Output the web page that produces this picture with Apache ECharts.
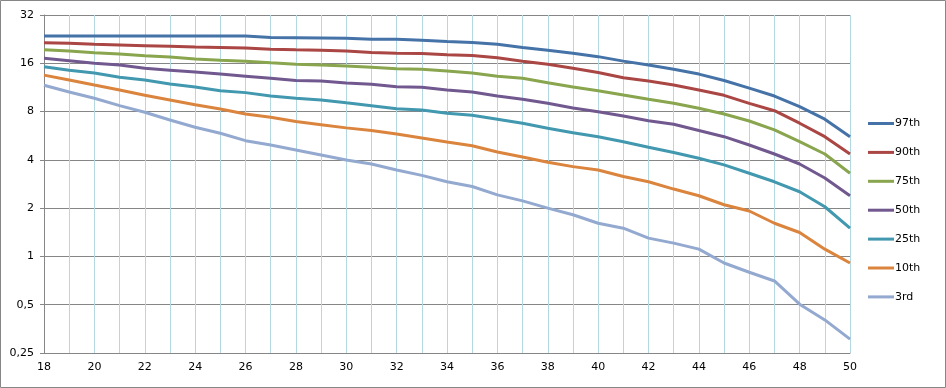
<!DOCTYPE html>
<html>
<head>
<meta charset="utf-8">
<script src="https://cdn.jsdelivr.net/npm/echarts@6/dist/echarts.min.js"></script>
<style>
html,body{margin:0;padding:0;background:#fff;}
#chart{width:946px;height:388px;}
</style>
</head>
<body>
<div id="chart"></div>
<script>
const ages = ['18','19','20','21','22','23','24','25','26','27','28','29','30','31','32','33','34','35','36','37','38','39','40','41','42','43','44','45','46','47','48','49','50'];
const seriesNames = ['97th','90th','75th','50th','25th','10th','3rd'];
const seriesColors = ['#4572A7','#AA4643','#89A54E','#71588F','#4198AF','#DB843D','#93A9CF'];
const p97 = [23.7,23.7,23.7,23.7,23.7,23.7,23.7,23.7,23.7,23.2,23.1,23.0,22.9,22.6,22.6,22.3,21.9,21.6,21.0,20.1,19.3,18.5,17.6,16.5,15.6,14.7,13.7,12.5,11.2,10.0,8.58,7.17,5.58];
const p90 = [21.5,21.3,21.0,20.8,20.6,20.4,20.2,20.1,19.9,19.6,19.4,19.3,19.1,18.7,18.5,18.4,18.1,17.9,17.3,16.5,15.8,14.9,14.0,13.0,12.4,11.7,10.9,10.1,9.0,8.1,6.77,5.58,4.35];
const p75 = [19.4,19.1,18.6,18.3,17.8,17.5,17.0,16.7,16.5,16.1,15.8,15.6,15.4,15.1,14.8,14.7,14.3,13.9,13.3,12.9,12.1,11.4,10.8,10.15,9.55,9.01,8.39,7.73,6.99,6.15,5.19,4.35,3.30];
const p50 = [17.2,16.6,16.0,15.6,14.9,14.5,14.1,13.7,13.3,12.9,12.5,12.4,12.06,11.84,11.43,11.35,10.9,10.6,10.0,9.55,9.01,8.42,7.99,7.51,7.02,6.67,6.09,5.58,4.95,4.35,3.77,3.08,2.39];
const p25 = [15.2,14.5,13.9,13.1,12.6,11.9,11.4,10.8,10.5,10.0,9.7,9.45,9.07,8.71,8.34,8.19,7.81,7.58,7.17,6.77,6.30,5.91,5.58,5.19,4.79,4.44,4.09,3.72,3.30,2.92,2.53,2.04,1.50];
const p10 = [13.5,12.6,11.7,10.9,10.1,9.45,8.83,8.31,7.73,7.37,6.93,6.63,6.33,6.09,5.80,5.48,5.17,4.90,4.48,4.17,3.86,3.63,3.46,3.15,2.92,2.63,2.39,2.10,1.92,1.61,1.41,1.11,0.91];
const p3 = [11.67,10.6,9.69,8.71,7.92,7.09,6.39,5.86,5.27,4.95,4.61,4.29,3.99,3.77,3.46,3.20,2.92,2.73,2.42,2.22,2.00,1.82,1.61,1.50,1.30,1.21,1.11,0.91,0.797,0.703,0.504,0.402,0.305];
const seriesData = [p97,p90,p75,p50,p25,p10,p3];

const chart = echarts.init(document.getElementById('chart'), null, {renderer:'canvas'});
const font = 'DejaVu Sans';
chart.setOption({
  animation:false,
  backgroundColor:'#fff',
  textStyle:{fontFamily:font},
  graphic:[{type:'rect',shape:{x:0.5,y:0.5,width:945,height:387},style:{fill:'none',stroke:'#868686',lineWidth:1},silent:true,z:-1}],
  grid:{left:44,right:96,top:15,bottom:35,containLabel:false},
  legend:{
    orient:'vertical',left:863,top:113,
    itemWidth:26,itemHeight:14,itemGap:17.9,
    textStyle:{fontFamily:font,fontSize:11,color:'#000',padding:[0,0,0,-4]},
    data:seriesNames.map((n,i)=>({name:n,icon:'path://M0,0L26,0L26,3L0,3Z',itemStyle:{color:seriesColors[i]}}))
  },
  xAxis:{
    type:'category',data:ages,boundaryGap:false,
    axisLine:{lineStyle:{color:'#868686',width:1}},
    axisTick:{show:false},
    axisLabel:{interval:1,color:'#000',fontFamily:font,fontSize:11,margin:9},
    splitLine:{show:true,interval:0,lineStyle:{color:'#B4D8E0',width:1}}
  },
  yAxis:{
    type:'log',logBase:2,min:0.25,max:32,splitNumber:7,
    axisLine:{show:true,lineStyle:{color:'#868686',width:1}},
    axisTick:{show:true,length:4,lineStyle:{color:'#868686'}},
    axisLabel:{color:'#000',fontFamily:font,fontSize:11,margin:10,formatter:v=>String(v).replace('.',',')},
    splitLine:{show:true,lineStyle:{color:'#868686',width:1}}
  },
  series:seriesNames.map((n,i)=>({
    name:n,type:'line',data:seriesData[i],symbol:'none',
    lineStyle:{color:seriesColors[i],width:3},
    itemStyle:{color:seriesColors[i]}
  }))
});
</script>
</body>
</html>
